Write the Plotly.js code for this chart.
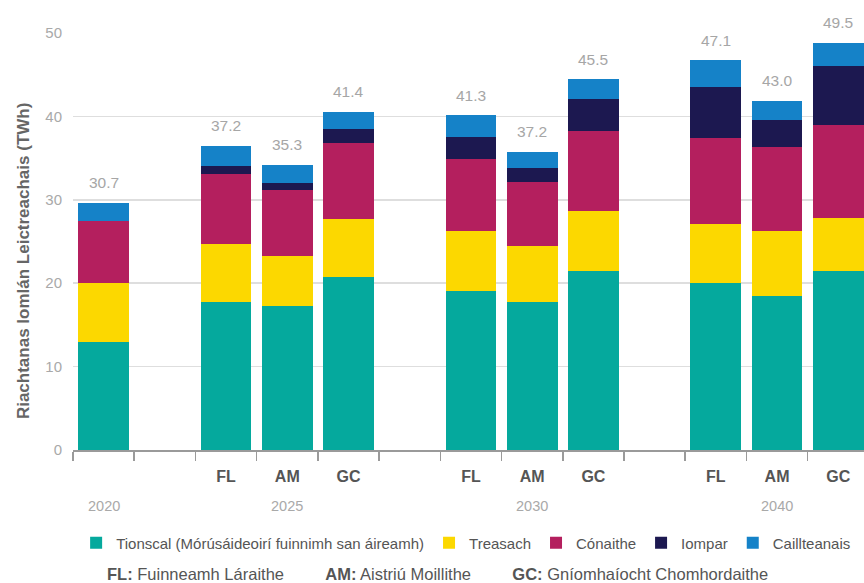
<!DOCTYPE html>
<html>
<head>
<meta charset="utf-8">
<script src="https://cdn.plot.ly/plotly-3.0.1.min.js"></script>
<style>html,body{margin:0;padding:0;overflow:hidden;background:#fff}</style>
</head>
<body>
<div id="chart" style="width:864px;height:583px"></div>
<script>
// Slots on the x axis (gaps separate the year groups)
const slots = ['2020', 'gap1', 'FL-2025', 'AM-2025', 'GC-2025', 'gap2', 'FL-2030', 'AM-2030', 'GC-2030', 'gap3', 'FL-2040', 'AM-2040', 'GC-2040'];
const slotLabels = ['', '', 'FL', 'AM', 'GC', '', 'FL', 'AM', 'GC', '', 'FL', 'AM', 'GC'];
const bars = ['2020', 'FL-2025', 'AM-2025', 'GC-2025', 'FL-2030', 'AM-2030', 'GC-2030', 'FL-2040', 'AM-2040', 'GC-2040'];

// Segments (TWh)
const tionscal     = [12.9, 17.8, 17.3, 20.75, 19.1, 17.75, 21.5, 20.0, 18.5, 21.5];
const treasach     = [7.15, 6.95, 6.0, 6.95, 7.1, 6.7, 7.2, 7.05, 7.7, 6.35];
const conaithe     = [7.45, 8.4, 7.9, 9.1, 8.65, 7.7, 9.5, 10.35, 10.1, 11.15];
const iompar       = [0, 0.85, 0.85, 1.7, 2.65, 1.7, 3.85, 6.1, 3.25, 7.1];
const caillteanais = [2.15, 2.5, 2.15, 2.05, 2.65, 1.9, 2.4, 3.25, 2.3, 2.75];

// Printed totals
const totalLabels = ['30.7', '37.2', '35.3', '41.4', '41.3', '37.2', '45.5', '47.1', '43.0', '49.5'];

// Year labels and the slot under which they are written
const years = ['2020', '2025', '2030', '2040'];
const yearSlots = ['2020', 'AM-2025', 'AM-2030', 'AM-2040'];

const seriesNames = ['Tionscal (Mórúsáideoirí fuinnimh san áireamh)', 'Treasach', 'Cónaithe', 'Iompar', 'Caillteanais'];
const seriesValues = [tionscal, treasach, conaithe, iompar, caillteanais];
const seriesColors = ['#05A99D', '#FCD800', '#B41F5E', '#1C1850', '#1582C8'];

const FONT = 'Liberation Sans, Arial, sans-serif';

const traces = seriesNames.map((n, i) => ({
  type: 'bar',
  name: n,
  x: bars,
  y: seriesValues[i],
  marker: {color: seriesColors[i], line: {width: 0}},
  hoverinfo: 'skip'
}));

const totals = bars.map((b, i) => seriesValues.reduce((s, arr) => s + arr[i], 0));

const annotations = [];
bars.forEach((b, i) => {
  annotations.push({
    x: slots.indexOf(b), y: totals[i], xref: 'x', yref: 'y',
    text: totalLabels[i], showarrow: false,
    yanchor: 'middle', yshift: 20,
    font: {family: FONT, size: 15.5, color: '#a6a6a6'}
  });
});
years.forEach((yv, i) => {
  annotations.push({
    x: slots.indexOf(yearSlots[i]), y: -0.134, xref: 'x', yref: 'paper',
    text: yv, showarrow: false, yanchor: 'middle',
    font: {family: FONT, size: 14.5, color: '#a9a9a9'}
  });
});
annotations.push({
  x: 0.461, y: -0.297, xref: 'paper', yref: 'paper', xanchor: 'center', yanchor: 'middle',
  showarrow: false,
  text: '<b>FL:</b> Fuinneamh Láraithe         <b>AM:</b> Aistriú Moillithe         <b>GC:</b> Gníomhaíocht Chomhordaithe',
  font: {family: FONT, size: 16.5, color: '#555555'}
});
// Y-axis title (placed as a rotated annotation to match its vertical offset)
annotations.push({
  x: -0.0632, y: 0.453, xref: 'paper', yref: 'paper', xanchor: 'center', yanchor: 'middle',
  showarrow: false, textangle: -90,
  text: '<b>Riachtanas Iomlán Leictreachais (TWh)</b>',
  font: {family: FONT, size: 17, color: '#666666'}
});

const layout = {
  width: 864, height: 583,
  margin: {l: 73, r: 0, t: 33, b: 133, pad: 0},
  paper_bgcolor: '#ffffff', plot_bgcolor: '#ffffff',
  barmode: 'stack',
  bargap: 0.17,
  showlegend: true,
  legend: {
    orientation: 'h', x: 0.497, xanchor: 'center', y: -0.223, yanchor: 'middle',
    font: {family: FONT, size: 15, color: '#555555'},
    traceorder: 'normal', itemwidth: 30
  },
  xaxis: {
    type: 'category',
    categoryorder: 'array', categoryarray: slots,
    range: [-0.5, 12.42],
    tickmode: 'array', tickvals: slots, ticktext: slotLabels,
    tickson: 'boundaries',
    ticks: 'outside', ticklen: 9, tickcolor: '#9a9a9a', tickwidth: 1.5,
    ticklabelstandoff: 11,
    showline: true, linecolor: '#9a9a9a', linewidth: 1.5,
    showgrid: false, zeroline: false,
    tickfont: {family: FONT, size: 16, color: '#555555', weight: 'bold'},
    fixedrange: true
  },
  yaxis: {
    range: [0, 50],
    tickvals: [0, 10, 20, 30, 40, 50],
    ticks: '', ticklabelstandoff: 10,
    showgrid: true, gridcolor: '#dedede', gridwidth: 1.5,
    zeroline: false, showline: false,
    tickfont: {family: FONT, size: 15, color: '#a9a9a9'},
    fixedrange: true
  },
  annotations: annotations,
  hovermode: false
};

Plotly.newPlot('chart', traces, layout, {displayModeBar: false, staticPlot: true});
</script>
</body>
</html>
